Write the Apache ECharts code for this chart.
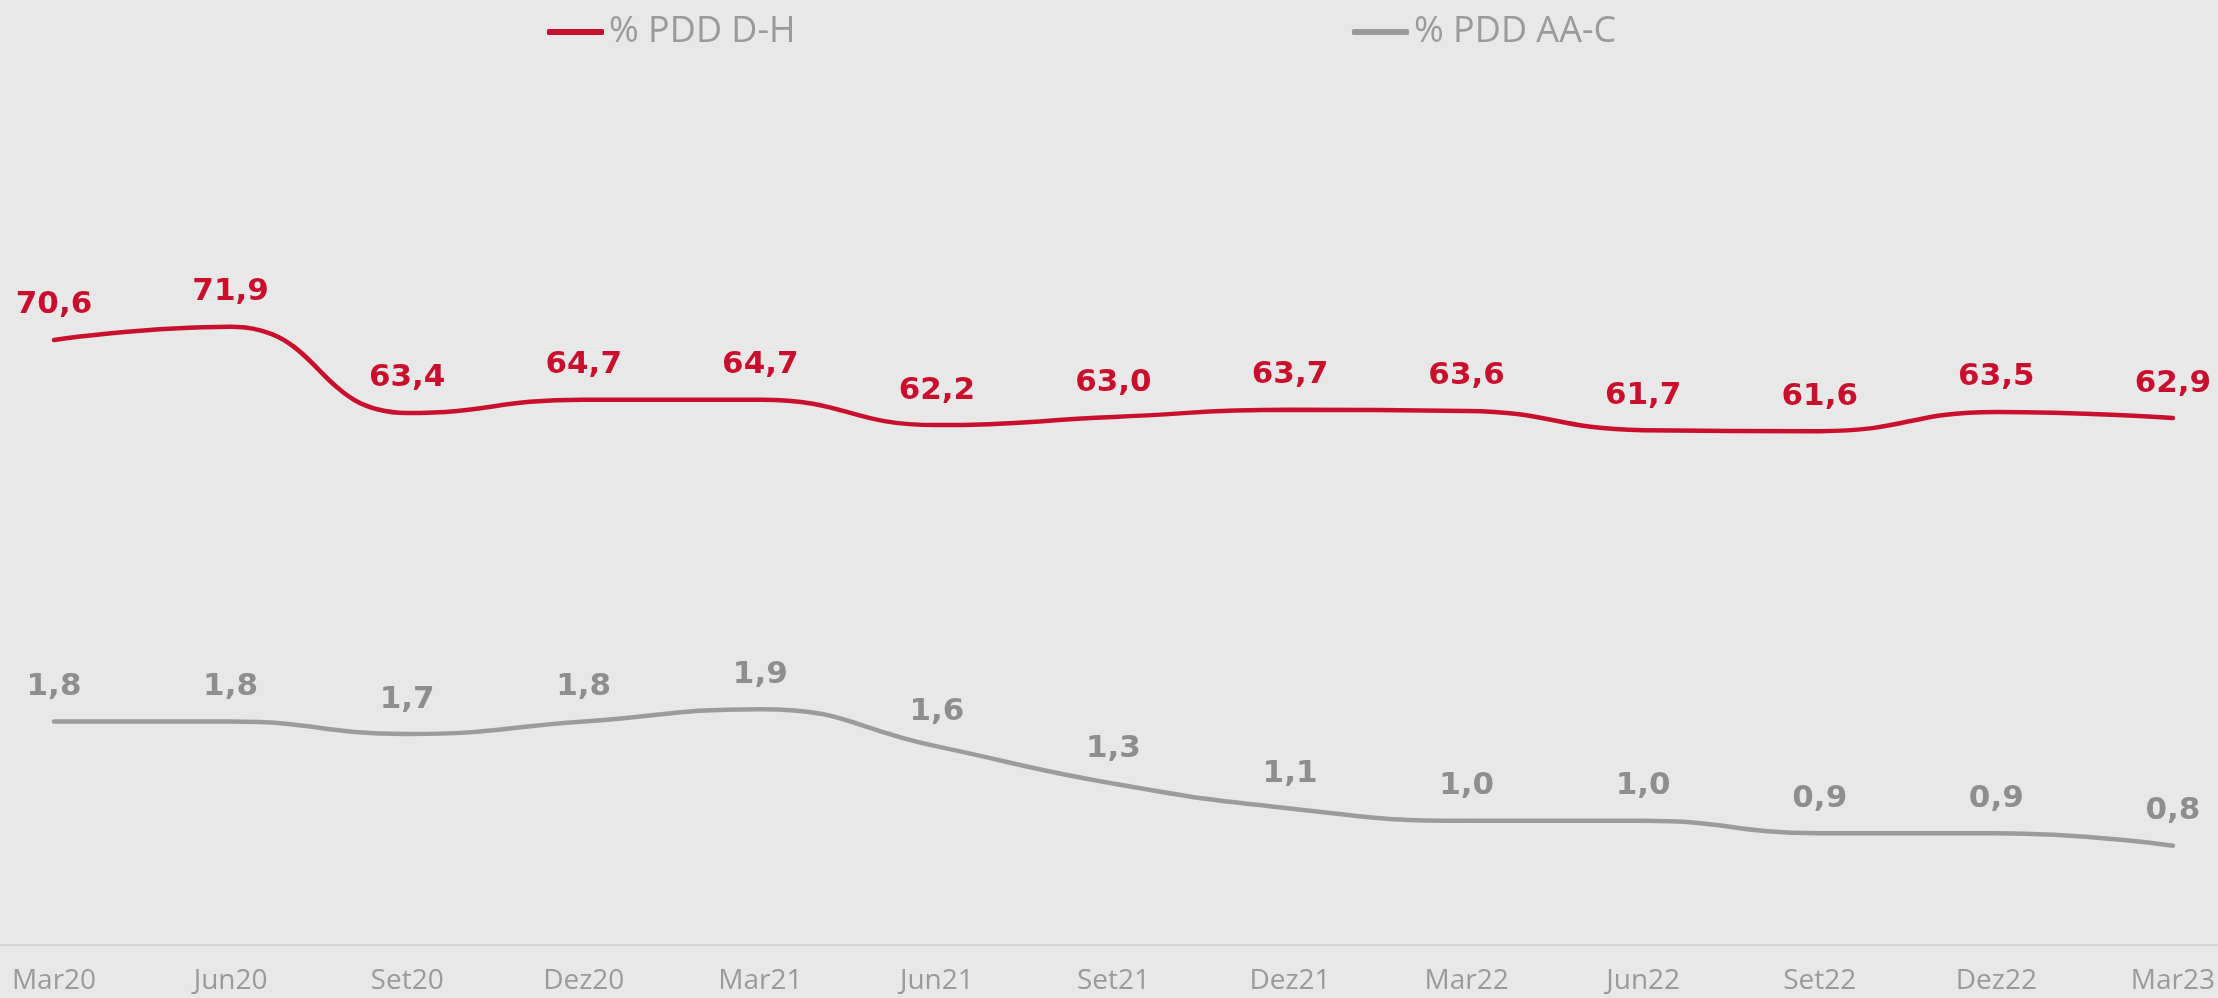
<!DOCTYPE html>
<html>
<head>
<meta charset="utf-8">
<script src="https://cdn.jsdelivr.net/npm/echarts@6/dist/echarts.min.js"></script>
<style>
  html, body { margin: 0; padding: 0; background: #e8e8e8; }
  #chart-parent { width: 2218px; height: 998px; }
  #chart { width: 100%; height: 100%; }
</style>
</head>
<body>
<div id="chart-parent"><div id="chart"></div></div>
<script>
  // quarters on the x axis
  const quarters = ["Mar20", "Jun20", "Set20", "Dez20", "Mar21", "Jun21", "Set21",
    "Dez21", "Mar22", "Jun22", "Set22", "Dez22", "Mar23"];
  // % PDD D-H (left scale)
  const pddDH = [70.6, 71.9, 63.4, 64.7, 64.7, 62.2, 63.0, 63.7, 63.6, 61.7, 61.6, 63.5, 62.9];
  // % PDD AA-C (right scale)
  const pddAAC = [1.8, 1.8, 1.7, 1.8, 1.9, 1.6, 1.3, 1.1, 1.0, 1.0, 0.9, 0.9, 0.8];

  const RED = "#c8102e";
  const GREY = "#9b9b9b";

  const element = document.getElementById("chart");
  const chart = echarts.init(element, null, {
    width: document.getElementById("chart-parent").offsetWidth,
    height: document.getElementById("chart-parent").offsetHeight
  });

  const fmt = p => p.value.toFixed(1).replace(".", ",");

  const labelStyle = color => ({
    show: true,
    position: "top",
    distance: 18,
    color: color,
    fontFamily: "DejaVu Sans",
    fontWeight: "bold",
    fontSize: 31,
    formatter: fmt
  });

  const legendStyle = {
    top: 9,
    itemWidth: 57,
    itemHeight: 6,
    icon: "roundRect",
    textStyle: { color: "#9a9a9a", fontFamily: "Open Sans", fontSize: 36 }
  };

  const options = {
    backgroundColor: "#e8e8e8",
    animation: false,
    legend: [
      Object.assign({ left: 542, data: ["% PDD D-H"] }, legendStyle),
      Object.assign({ left: 1347, data: ["% PDD AA-C"] }, legendStyle)
    ],
    grid: [
      { left: 54, right: 43, top: 45, bottom: 53 },
      // full-width grid used only for the base line
      { left: 0, right: 0, top: 45, bottom: 53 }
    ],
    xAxis: [
      {
        type: "category",
        boundaryGap: false,
        data: quarters,
        axisLine: { show: false },
        axisTick: { show: false },
        axisLabel: {
          color: "#9a9a9a",
          fontFamily: "Open Sans",
          fontSize: 28,
          margin: 22
        }
      },
      {
        type: "value",
        gridIndex: 1,
        min: 0,
        max: 1,
        axisLine: { show: true, lineStyle: { color: "#d5d5d5", width: 2 } },
        axisTick: { show: false },
        axisLabel: { show: false },
        splitLine: { show: false }
      }
    ],
    yAxis: [
      { type: "value", min: 10.9, max: 99.7, show: false, splitLine: { show: false } },
      { type: "value", min: 0, max: 7.25, show: false, splitLine: { show: false } },
      { type: "value", gridIndex: 1, show: false, splitLine: { show: false } }
    ],
    series: [
      {
        name: "% PDD D-H",
        type: "line",
        yAxisIndex: 0,
        data: pddDH,
        smooth: 0.5,
        symbol: "circle",
        symbolSize: 2,
        itemStyle: { color: RED },
        lineStyle: { color: RED, width: 4.5, cap: "round" },
        label: labelStyle(RED)
      },
      {
        name: "% PDD AA-C",
        type: "line",
        yAxisIndex: 1,
        data: pddAAC,
        smooth: 0.5,
        symbol: "circle",
        symbolSize: 2,
        itemStyle: { color: GREY },
        lineStyle: { color: GREY, width: 4.5, cap: "round" },
        label: labelStyle("#8e8e8e")
      }
    ]
  };
  chart.setOption(options);
</script>
</body>
</html>
